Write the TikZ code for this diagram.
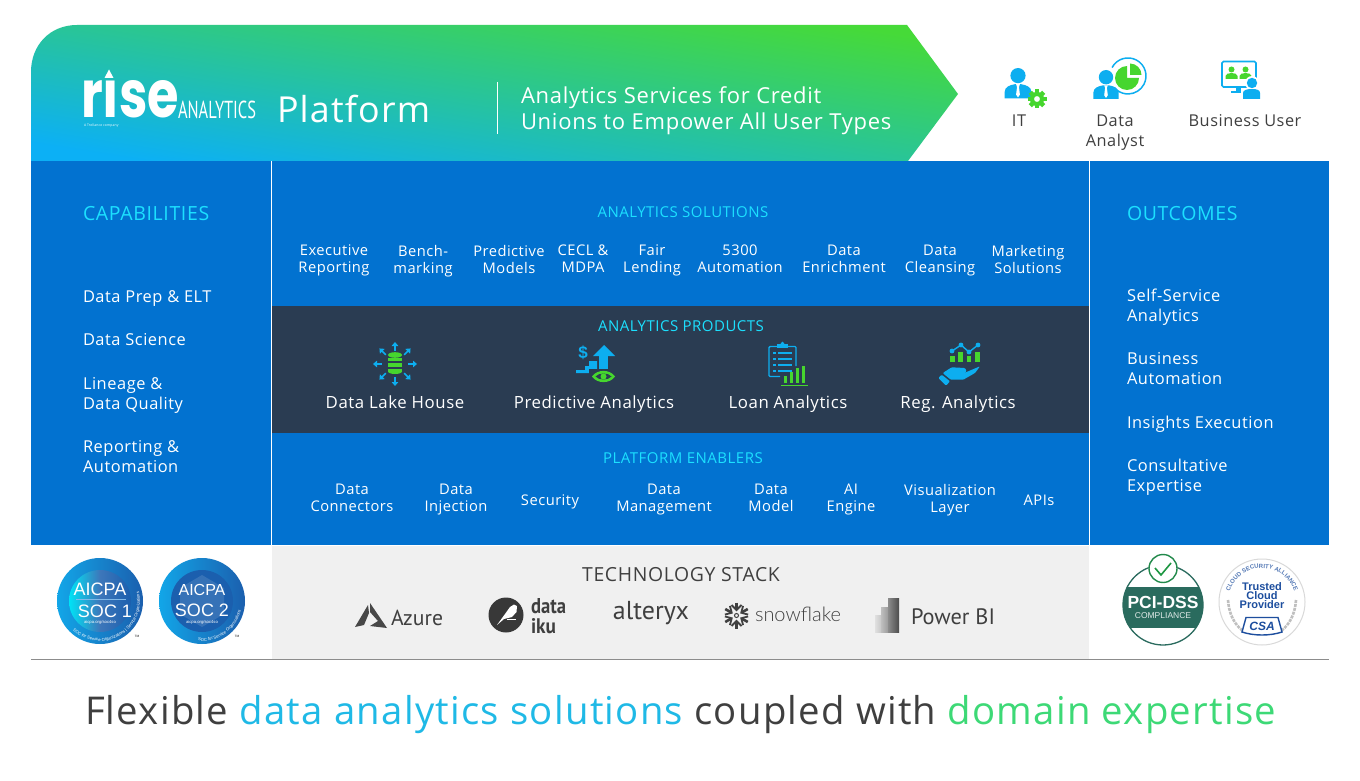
\documentclass[tikz,border=0pt]{standalone}
\usepackage{fontspec}
\usepackage{graphicx}
\setmainfont[LetterSpace=3.3]{Open Sans}
\newfontfamily\logofont{Poppins}
\newfontfamily\condfont{PT Sans}
\newfontfamily\headfont{Liberation Sans}
\newfontfamily\thinfont{Lato Light}
\usetikzlibrary{decorations.text,calc}
\definecolor{mainblue}{HTML}{0272D0}
\definecolor{darkpanel}{HTML}{2A3C52}
\definecolor{cyanhead}{HTML}{1CE0FF}
\definecolor{iconblue}{HTML}{0DAEF0}
\definecolor{icongreen}{HTML}{46D62E}
\definecolor{stackbg}{HTML}{F0F0F0}
\definecolor{inktext}{HTML}{3F3F3F}
\definecolor{pcigreen}{HTML}{2A6B5E}
\definecolor{csanavy}{HTML}{1D4E9E}
\definecolor{lineblue}{HTML}{1FB9E6}
\definecolor{linegreen}{HTML}{3DD976}
\definecolor{gradlow}{HTML}{0CB0F5}
\definecolor{gradmid}{HTML}{2EC3BE}
\definecolor{gradtop}{HTML}{46DA38}
\definecolor{ringlight}{HTML}{12A6E8}
\definecolor{ringdark}{HTML}{1B5FAE}
\newcommand{\fsz}[2]{\fontsize{#1}{#2}\selectfont}
\newcommand{\linetop}{\rule{0pt}{12.5pt}}
\tikzset{
  x=1pt,y=-1pt,
  txt/.style={inner sep=0pt,outer sep=0pt,align=center,text=white},
  small/.style={txt,text depth=4pt,font=\fsz{14.7}{17},execute at begin node=\linetop},
  listw/.style={txt,text depth=4pt,align=left,anchor=west,font=\fsz{16.4}{19.5},execute at begin node=\linetop},
  head/.style={txt,text depth=0pt,text=cyanhead,font=\fsz{15}{17}},
  headl/.style={txt,text depth=0pt,text=cyanhead,anchor=west,font=\fsz{19.5}{20}},
  prod/.style={txt,text depth=4pt,font=\fsz{16.8}{19},execute at begin node=\linetop},
  user/.style={txt,text depth=4pt,text=inktext,font=\fsz{16.3}{20},execute at begin node=\linetop},
  logoname/.style={txt,text=inktext},
  person/.pic={
    \fill[pic actions] (0,-12) circle (8);
    \fill[pic actions] (-14,12) -- (-14,5) .. controls (-14,0) and (-9,-2) .. (-3,-3) -- (3,-3) .. controls (9,-2) and (14,0) .. (14,5) -- (14,12) -- cycle;
    \fill[white] (-2,-3) -- (2,-3) -- (1,0) -- (2,8) -- (0,11) -- (-2,8) -- (-1,0) -- cycle;
  },
  gear/.pic={
    \foreach \a in {0,45,...,315}{\fill[icongreen,rotate=\a] (-2.4,-10) rectangle (2.4,-6);}
    \fill[icongreen,even odd rule] (0,0) circle (7.5) (0,0) circle (3.2);
  },
  minip/.pic={
    \fill[icongreen] (0,-4.5) circle (3);
    \fill[icongreen] (-6,5) -- (-6,2) .. controls (-6,0) and (-3,-1) .. (0,-1) .. controls (3,-1) and (6,0) .. (6,2) -- (6,5) -- cycle;
  },
  out8/.pic={
    \draw[iconblue,line width=1.6pt] (0,-13) -- (0,-20);
    \fill[iconblue] (-3.4,-18) -- (0,-22) -- (3.4,-18) -- cycle;
  },
}
\begin{document}
\begin{tikzpicture}
\useasboundingbox (0,0) rectangle (1360,781);
\fill[white] (0,0) rectangle (1360,781);

% banner
\shade[bottom color=gradlow,middle color=gradmid,top color=gradtop,shading angle=-9]
  (31,161) -- (31,72) .. controls (31,45) and (50,25) .. (77,25) -- (907,25) -- (958,94) -- (908,161) -- cycle;

% main panels
\fill[mainblue] (31,161) rectangle (1329,545);
\fill[darkpanel] (272,306) rectangle (1089,433);
\fill[stackbg] (272,546) rectangle (1089,659);
\coordinate (sepLt) at (271.5,161); \coordinate (sepLb) at (271.5,545);
\coordinate (sepRt) at (1089.5,161); \coordinate (sepRb) at (1089.5,545);
\draw[white,line width=1pt] (sepLt) -- (sepLb);
\draw[white,line width=1pt] (sepRt) -- (sepRb);
\coordinate (ruleL) at (31,659.5); \coordinate (ruleR) at (1329,659.5);
\draw[black!45,line width=1pt] (ruleL) -- (ruleR);

% logo
\node[txt,anchor=south west] (logoRise) at (81,118.5) {\resizebox{98pt}{37pt}{\logofont\bfseries r\i se}};
\fill[white] (109,69.5) -- (113.5,78) -- (104.5,78) -- cycle;
\node[txt,anchor=south west] (logoAnalytics) at (178,118.5) {\resizebox{78pt}{17.5pt}{\condfont ANALYTICS}};
\node[txt,anchor=west,font=\fsz{3.4}{4}] (logoTag) at (84,126) {A Trellance company};
\node[txt,anchor=west,font=\fsz{35.8}{36}] (platform) at (277,109) {Platform};
\coordinate (bart) at (497,82); \coordinate (barb) at (497,134);
\draw[white,line width=.8pt] (bart) -- (barb);
\node[txt,text depth=5pt,align=left,anchor=west,font=\fsz{22}{26}] (tagline) at (521,111) {Analytics Services for Credit\\Unions to Empower All User Types};

% users
\pic[iconblue,scale=.95] at (1018,87) {person};
\pic[scale=.95] at (1037,99) {gear};
\node[user] (uIT) at (1019,122.5) {IT};
\pic[iconblue,scale=.9] at (1106,88) {person};
\draw[iconblue,line width=1.5pt] (1112.1,67.5) arc[start angle=208,end angle=485,radius=18];
\fill[icongreen] (1127,78) -- (1127,66) arc[start angle=270,end angle=0,radius=12] -- cycle;
\fill[icongreen] (1130,75) -- (1130,63.5) arc[start angle=270,end angle=360,radius=11.5] -- cycle;
\node[user] (uDA) at (1115,132.5) {Data\\Analyst};
\draw[iconblue,line width=1.6pt,rounded corners=1.5pt] (1222,61.5) rectangle (1256,87);
\fill[iconblue] (1236,87) rectangle (1241,92);
\fill[iconblue] (1231,91) rectangle (1245,93.5);
\pic at (1231.5,74) {minip};
\pic at (1245.5,74) {minip};
\fill[white] (1252,83) circle (7);
\fill[white] (1241,99.5) rectangle (1261,88);
\fill[iconblue] (1252,83) circle (5.2);
\fill[iconblue] (1243,99) -- (1243,93) .. controls (1243,90) and (1247,89) .. (1252,89) .. controls (1257,89) and (1260,90) .. (1260,93) -- (1260,99) -- cycle;
\node[user] (uBU) at (1245,122.5) {Business User};

% left column
\node[headl] (capH) at (83,213) {CAPABILITIES};
\node[listw] (cap1) at (83,298.5) {Data Prep \& ELT};
\node[listw] (cap2) at (83,341.5) {Data Science};
\node[listw] (cap3) at (83,395.5) {Lineage \&\\Data Quality};
\node[listw] (cap4) at (83,458.5) {Reporting \&\\Automation};

% right column
\node[headl] (outH) at (1127,213) {OUTCOMES};
\node[listw] (out1) at (1127,307) {Self-Service\\Analytics};
\node[listw] (out2) at (1127,370.5) {Business\\Automation};
\node[listw] (out3) at (1127,424.5) {Insights Execution};
\node[listw] (out4) at (1127,477.5) {Consultative\\Expertise};

% solutions
\node[head] (solH) at (683,212) {ANALYTICS SOLUTIONS};
\node[small] (s1) at (334,261) {Executive\\Reporting};
\node[small] (s2) at (423,261) {Bench-\\marking};
\node[small] (s3) at (509,261) {Predictive\\Models};
\node[small] (s4) at (583,261) {CECL \&\\MDPA};
\node[small] (s5) at (652,261) {Fair\\Lending};
\node[small] (s6) at (740,261) {5300\\Automation};
\node[small] (s7) at (844,261) {Data\\Enrichment};
\node[small] (s8) at (940,261) {Data\\Cleansing};
\node[small] (s9) at (1028,261) {Marketing\\Solutions};

% products
\node[head] (prodH) at (681,326.5) {ANALYTICS PRODUCTS};
\foreach \a in {0,45,...,315}{\pic[rotate=\a] at (395,364) {out8};}
\fill[icongreen] (395,355) ellipse (7 and 2.8);
\fill[icongreen] (388,357.5) rectangle (402,360.5);
\fill[icongreen] (388,362.5) rectangle (402,366.5);
\fill[icongreen] (388,368.5) rectangle (402,371.5);
\fill[icongreen] (395,371.5) ellipse (7 and 2.5);
\node[prod] (p1) at (395,404) {Data Lake House};

\node[txt,text=iconblue,font=\headfont\bfseries\fsz{17}{17}] (pdollar) at (583,353) {\$};
\fill[iconblue] (576,373) -- (576,370) -- (585,370) -- (585,366) -- (589,366) -- (589,361) -- (597,361) -- (597,373) -- cycle;
\fill[iconblue] (599,373) rectangle (608,355);
\fill[iconblue] (593,356) -- (604,345) -- (615,356) -- cycle;
\fill[darkpanel] (589,369) rectangle (618,386);
\fill[icongreen] (592,376.5) .. controls (597,369) and (610,369) .. (615,376.5) .. controls (610,384) and (597,384) .. (592,376.5) -- cycle;
\fill[darkpanel] (595.5,376.5) .. controls (599,372.5) and (608,372.5) .. (611.5,376.5) .. controls (608,380.5) and (599,380.5) .. (595.5,376.5) -- cycle;
\fill[icongreen] (603.5,376.5) circle (3);
\node[prod] (p2) at (594,404) {Predictive Analytics};

\draw[iconblue,line width=1.4pt,rounded corners=1pt] (780,376.5) -- (769,376.5) -- (769,346.5) -- (796,346.5) -- (796,366);
\fill[iconblue] (777,348) rectangle (788,344);
\fill[iconblue] (782.5,343.5) circle (1.8);
\foreach \yy in {352,358,364,370}{
  \fill[iconblue] (773,\yy) rectangle (775.5,\yy+1.8);
  \fill[iconblue] (778,\yy) rectangle (792,\yy+1.8);
}
\fill[icongreen] (784,383) rectangle (787,376);
\fill[icongreen] (790,383) rectangle (793,372);
\fill[icongreen] (796,383) rectangle (799,368);
\fill[icongreen] (802,383) rectangle (805,366);
\fill[icongreen] (781,384.5) rectangle (808,386);
\node[prod] (p3) at (788,404) {Loan Analytics};

\draw[iconblue,line width=1.4pt] (952,351) -- (961,345) -- (969,352) -- (978,345);
\foreach \px/\py in {952/351,961/345,969/352,978/345}{\fill[iconblue] (\px,\py) circle (2.4);}
\fill[icongreen] (950,362) rectangle (955,356);
\fill[icongreen] (958,362) rectangle (963,352);
\fill[icongreen] (967,362) rectangle (971,356);
\fill[icongreen] (975,362) rectangle (980,352);
\fill[iconblue,rounded corners=1pt] (942.7,373) -- (951.7,367.3) -- (965,368) -- (966.7,371.3) -- (961.7,374) -- (980,366.3) -- (975,373) -- (963.3,379.7) -- (950.7,379.7) -- cycle;
\fill[iconblue,rounded corners=1pt] (938.3,378) -- (941.7,374.7) -- (950,381.3) -- (946,385.7) -- cycle;
\node[prod] (p4) at (958,404) {Reg. Analytics};

% enablers
\node[head] (enH) at (683,458) {PLATFORM ENABLERS};
\node[small] (e1) at (352,500) {Data\\Connectors};
\node[small] (e2) at (456,500) {Data\\Injection};
\node[small] (e3) at (550,501.5) {Security};
\node[small] (e4) at (664,500) {Data\\Management};
\node[small] (e5) at (771,500) {Data\\Model};
\node[small] (e6) at (851,500) {AI\\Engine};
\node[small] (e7) at (950,500) {Visualization\\Layer};
\node[small] (e8) at (1039,501.5) {APIs};

% badges left
\shade[left color=ringlight,right color=ringdark] (100,601) circle (43);
\shade[left color=cyan!80!mainblue,right color=ringdark,middle color=ringdark!85!white] (100,601) circle (31);
\node[txt,font=\headfont\fsz{18}{18}] (aicpaA) at (100,589) {AICPA};
\node[txt,font=\headfont\fsz{18}{18}] (socA) at (105,611) {SOC 1};
\node[txt,font=\headfont\fsz{4.2}{5}] (urlA) at (100,622.5) {aicpa.org/soc4so};
\coordinate (ruleAl) at (76,599.5); \coordinate (ruleAr) at (126,599.5);
\draw[white!50!mainblue,line width=.4pt] (ruleAl) -- (ruleAr);
\path[postaction={decorate},decoration={text along path,text align=center,text={|\headfont\fsz{4.2}{5}\color{white}|SOC for Service Organizations {\textbar} Service Organizations}}] (71.2,628.8) arc[start angle=136,end angle=-17,radius=40];
\node[txt,text=black,font=\fsz{3}{3}] (tma) at (137,636) {TM};

\shade[left color=ringlight,right color=ringdark] (202,601) circle (43);
\fill[ringdark] (202,601) circle (31);
\fill[white,opacity=.12] (202,575) -- (224,588) -- (224,614) -- (202,627) -- (180,614) -- (180,588) -- cycle;
\node[txt,font=\headfont\fsz{16}{16}] (aicpaB) at (202,590) {AICPA};
\node[txt,font=\headfont\fsz{18}{18}] (socB) at (202,610) {SOC 2};
\node[txt,font=\headfont\fsz{4.2}{5}] (urlB) at (202,622.5) {aicpa.org/soc4so};
\path[postaction={decorate},decoration={text along path,text align=center,text={|\headfont\fsz{4.2}{5}\color{white}|SOC for Service Organizations}}] (194.4,640.3) arc[start angle=101,end angle=8,radius=40];
\node[txt,text=black,font=\fsz{3}{3}] (tmb) at (237,636) {TM};

% tech stack
\node[txt,text=inktext,font=\fsz{19.4}{20}] (tech) at (681,575) {TECHNOLOGY  STACK};
\fill[black!72] (370,603) -- (387,628) -- (370,626) -- (378,621) -- (370,612) -- cycle;
\fill[black!72] (368,605) -- (355,627) -- (364,625) -- (369,613) -- cycle;
\node[logoname,anchor=west] (azure) at (391,618) {\resizebox{52pt}{!}{\condfont Azure}};
\fill[black!78] (506,615) circle (17.5);
\fill[white] (497,625) -- (505,614) -- (510,607) -- (514,604.5) -- (517,606) -- (516.5,612) -- (512,617) -- (504,619) -- cycle;
\draw[white,line width=.8pt] (507,619.5) -- (516,619.5);
\node[logoname,anchor=west,align=left] (dataiku) at (531,616) {\resizebox{35pt}{15pt}{\condfont\bfseries data}\\[3pt]\resizebox{25pt}{15pt}{\condfont\bfseries iku}};
\node[logoname] (alteryx) at (651,613.5) {\resizebox{76pt}{!}{\condfont alteryx}};
\foreach \a in {0,60,...,300}{
  \draw[black!75,line width=2.6pt,rotate around={\a:(736.5,615.5)}] (736.5,602.5) -- (736.5,609.5);
  \draw[black!75,line width=1.8pt,rotate around={\a:(736.5,615.5)}] (731.5,605) -- (736.5,610) -- (741.5,605);
}
\draw[black!75,line width=1pt] (736.5,615.5) circle (2);
\node[logoname,anchor=west] (snow) at (755,614) {\resizebox{86pt}{!}{\thinfont snowflake}};
\shade[left color=black!12,right color=black!25] (875,615) rectangle (883,632);
\shade[left color=black!25,right color=black!45] (881,607) rectangle (891,632);
\shade[left color=black!45,right color=black!70] (888,598) rectangle (899,632);
\node[logoname,anchor=west] (pbi) at (911,617) {\resizebox{84pt}{!}{\condfont Power BI}};

% PCI badge
\draw[pcigreen,line width=1.3pt] (1163,605) circle (40);
\begin{scope}
\clip (1163,605) circle (40);
\fill[pcigreen] (1120,587) rectangle (1206,628);
\end{scope}
\fill[white] (1163,568.5) circle (14.5);
\draw[pcigreen!80!green,line width=1.4pt] (1163,568.5) circle (14);
\draw[pcigreen!70!green,line width=1.6pt] (1155,568) -- (1161,575) -- (1171,563);
\node[txt,font=\headfont\bfseries\fsz{17.5}{18}] (pci) at (1163,602) {PCI-DSS};
\node[txt,text=white!85!pcigreen,font=\headfont\fsz{8.5}{9}] (pcic) at (1163,616) {COMPLIANCE};

% CSA badge
\draw[black!15,line width=1pt] (1262,602) circle (43);
\path[postaction={decorate},decoration={text along path,text align=center,text={|\headfont\bfseries\fsz{6}{8}\color{csanavy!75!white}|CLOUD SECURITY ALLIANCE}}] (1230,590.4) arc[start angle=200,end angle=340,radius=34];
\node[txt,text=csanavy,font=\headfont\bfseries\fsz{11}{9}] (csat) at (1262,596) {Trusted\\Cloud\\Provider};
\draw[black!25,line width=2.6pt,dash pattern=on 3pt off 1pt] (1228,600) .. controls (1229,615) and (1235,625) .. (1243,631);
\draw[black!25,line width=2.6pt,dash pattern=on 3pt off 1pt] (1296,600) .. controls (1295,615) and (1289,625) .. (1281,631);
\fill[white,draw=csanavy,line width=1.4pt] (1246,617.5) -- (1278,617.5) -- (1282,632) .. controls (1270,636) and (1254,636) .. (1242,632) -- cycle;
\node[txt,text=csanavy,font=\headfont\bfseries\itshape\fsz{12}{12}] (csa) at (1262,626.5) {CSA};

% slogan
\node[txt,text depth=8pt,text=inktext,anchor=west,font=\fsz{38.3}{40}] (slogan) at (85,714) {Flexible {\color{lineblue}data analytics solutions} coupled with {\color{linegreen}domain expertise}};
\end{tikzpicture}
\end{document}
